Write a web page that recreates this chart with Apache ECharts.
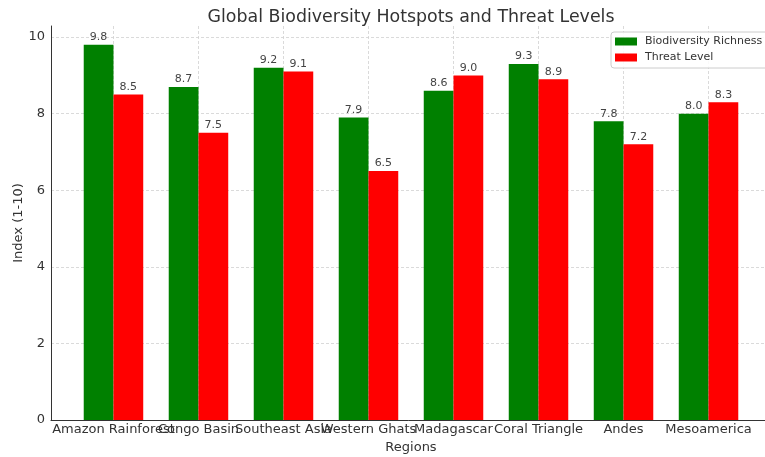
<!DOCTYPE html>
<html>
<head>
<meta charset="utf-8">
<script src="https://cdn.jsdelivr.net/npm/echarts@6/dist/echarts.min.js"></script>
<style>
html,body{margin:0;padding:0;background:#fff;}
#chart{width:765px;height:457px;}
</style>
</head>
<body>
<div id="chart"></div>
<script>
const regions = ["Amazon Rainforest", "Congo Basin", "Southeast Asia", "Western Ghats", "Madagascar", "Coral Triangle", "Andes", "Mesoamerica"];
const biodiversityRichness = [9.8, 8.7, 9.2, 7.9, 8.6, 9.3, 7.8, 8.0];
const threatLevel = [8.5, 7.5, 9.1, 6.5, 9.0, 8.9, 7.2, 8.3];
const yTicks = [0, 2, 4, 6, 8, 10];
const xMin = -0.735, xMax = 7.735;
const xTicks = regions.map((_, i) => i);
const xLabelValues = [xMin].concat(xTicks, [xMax]);

const chart = echarts.init(document.getElementById('chart'), null, {renderer: 'canvas'});
const font = 'DejaVu Sans';
const labelStyle = {
  show: true, position: 'top', distance: 2,
  fontFamily: font, fontSize: 11, color: '#444',
  formatter: p => p.value[1].toFixed(1)
};
const gridLine = {show: true, lineStyle: {type: [3, 2], color: '#d0d0d0', width: 0.8}};

chart.setOption({
  animation: false,
  backgroundColor: '#fff',
  textStyle: {fontFamily: font},
  title: {
    text: 'Global Biodiversity Hotspots and Threat Levels',
    left: 406, top: 4, textAlign: 'center',
    textStyle: {fontFamily: font, fontSize: 17.4, fontWeight: 'normal', color: '#333'}
  },
  legend: {
    left: 611, top: 32, orient: 'vertical',
    itemWidth: 22, itemHeight: 8, itemGap: 3,
    padding: [3, 8, 4, 4],
    borderColor: '#ccc', borderWidth: 1, borderRadius: 3,
    backgroundColor: 'rgba(255,255,255,0.85)',
    icon: 'rect',
    textStyle: {fontFamily: font, fontSize: 11, color: '#333', lineHeight: 13, padding: [0, 0, 0, 3]},
    data: ['Biodiversity Richness', 'Threat Level']
  },
  grid: {left: 51, right: -6, top: 26, bottom: 37, containLabel: false, outerBoundsMode: 'none'},
  xAxis: {
    type: 'value', min: xMin, max: xMax,
    name: 'Regions', nameLocation: 'middle', nameGap: 21, nameMoveOverlap: false,
    nameTextStyle: {fontFamily: font, fontSize: 13, color: '#333'},
    axisLine: {show: true, onZero: false, lineStyle: {color: '#333', width: 1}},
    axisTick: {show: false, customValues: xTicks},
    axisLabel: {customValues: xLabelValues, formatter: v => (Number.isInteger(v) && regions[v]) ? regions[v] : '', fontFamily: font, fontSize: 13, color: '#333', margin: 3, hideOverlap: false},
    splitLine: gridLine
  },
  yAxis: {
    type: 'value', min: 0, max: 10.29,
    name: 'Index (1-10)', nameLocation: 'middle', nameGap: 26, nameRotate: 90, nameMoveOverlap: false,
    nameTextStyle: {fontFamily: font, fontSize: 13, color: '#333'},
    axisLine: {show: true, onZero: false, lineStyle: {color: '#333', width: 1}},
    axisTick: {show: false, customValues: yTicks},
    axisLabel: {customValues: yTicks, fontFamily: font, fontSize: 13, color: '#333', margin: 6},
    splitLine: gridLine
  },
  series: [
    {
      name: 'Biodiversity Richness', type: 'bar',
      data: biodiversityRichness.map((v, i) => [i, v]),
      barWidth: '35%', barGap: '0%',
      itemStyle: {color: '#008000'},
      label: labelStyle
    },
    {
      name: 'Threat Level', type: 'bar',
      data: threatLevel.map((v, i) => [i, v]),
      barWidth: '35%', barGap: '0%',
      itemStyle: {color: '#ff0000'},
      label: labelStyle
    }
  ]
});
</script>
</body>
</html>
